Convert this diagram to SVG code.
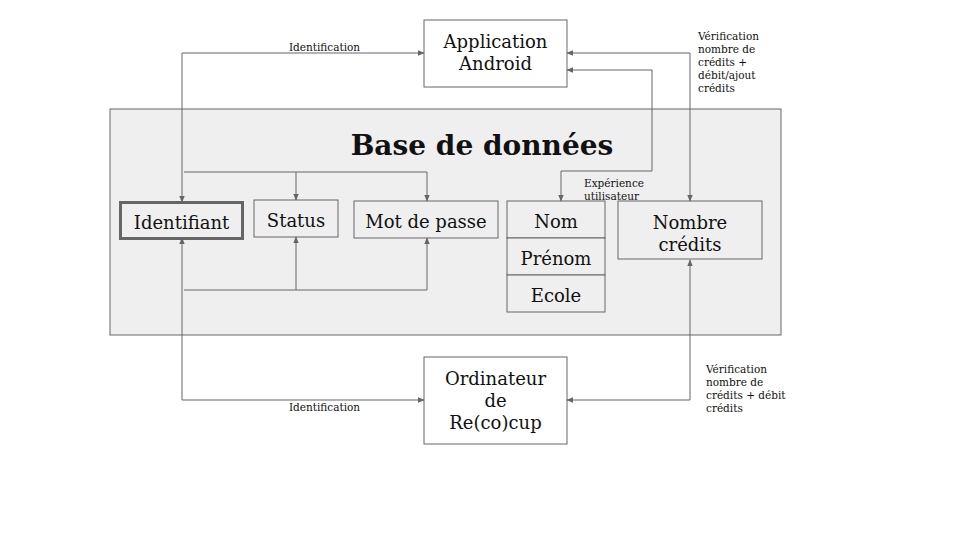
<svg xmlns="http://www.w3.org/2000/svg" width="960" height="540" viewBox="0 0 960 540">
<style>
.box{fill:#ffffff;stroke:#666666;stroke-width:1}
.inner{fill:#efefef;stroke:#666666;stroke-width:1}
.t{font-family:"DejaVu Serif","Liberation Serif",serif;font-size:18px;fill:#111;text-anchor:middle}
.s{font-family:"DejaVu Serif","Liberation Serif",serif;font-size:10.5px;fill:#111}
.c{fill:none;stroke:#666666;stroke-width:1}
</style>
<defs>
<marker id="a" viewBox="0 0 10 10" refX="9" refY="5" markerWidth="7" markerHeight="7" markerUnits="userSpaceOnUse" orient="auto-start-reverse">
<path d="M0,1 L10,5 L0,9 z" fill="#666666"/>
</marker>
</defs>
<rect width="960" height="540" fill="#ffffff"/>
<g id="base">
<rect x="110" y="109" width="671" height="226" fill="#efefef" stroke="#666666" stroke-width="1"/>
<text x="482" y="155" font-family="DejaVu Serif,Liberation Serif,serif" font-weight="bold" font-size="28" fill="#111" text-anchor="middle">Base de données</text>
</g>
<g id="app">
<rect class="box" x="424" y="20" width="143" height="67"/>
<text class="t" x="495.5" y="48">Application</text>
<text class="t" x="495.5" y="70">Android</text>
</g>
<g id="ordi">
<rect class="box" x="424" y="357" width="143" height="87"/>
<text class="t" x="495.5" y="385">Ordinateur</text>
<text class="t" x="495.5" y="407">de</text>
<text class="t" x="495.5" y="429">Re(co)cup</text>
</g>
<g id="identifiant">
<rect x="120.5" y="202.5" width="122" height="36" fill="#efefef" stroke="#666666" stroke-width="3"/>
<text class="t" x="181.5" y="229">Identifiant</text>
</g>
<g id="status">
<rect class="inner" x="254" y="200" width="84" height="37"/>
<text class="t" x="296" y="227">Status</text>
</g>
<g id="mdp">
<rect class="inner" x="354" y="201" width="144" height="37"/>
<text class="t" x="426" y="228">Mot de passe</text>
</g>
<g id="nom">
<rect class="inner" x="507" y="201" width="98" height="37"/>
<text class="t" x="556" y="228">Nom</text>
</g>
<g id="prenom">
<rect class="inner" x="507" y="238" width="98" height="37"/>
<text class="t" x="556" y="265">Prénom</text>
</g>
<g id="ecole">
<rect class="inner" x="507" y="275" width="98" height="37"/>
<text class="t" x="556" y="302">Ecole</text>
</g>
<g id="credits">
<rect class="inner" x="618" y="201" width="144" height="58"/>
<text class="t" x="690" y="229">Nombre</text>
<text class="t" x="690" y="251">crédits</text>
</g>
<g id="connectors">
<path class="c" d="M182,202 L182,53 L424,53" marker-start="url(#a)" marker-end="url(#a)"/>
<path class="c" d="M182,238 L182,400 L424,400" marker-start="url(#a)" marker-end="url(#a)"/>
<path class="c" d="M184,172 L427,172"/>
<path class="c" d="M296,172 L296,200" marker-end="url(#a)"/>
<path class="c" d="M427,172 L427,201" marker-end="url(#a)"/>
<path class="c" d="M184,290 L427,290"/>
<path class="c" d="M296,290 L296,237" marker-end="url(#a)"/>
<path class="c" d="M427,290 L427,238" marker-end="url(#a)"/>
<path class="c" d="M567,53 L690,53 L690,201" marker-start="url(#a)" marker-end="url(#a)"/>
<path class="c" d="M567,70 L652,70 L652,171 L561,171 L561,201" marker-start="url(#a)" marker-end="url(#a)"/>
<path class="c" d="M690,260 L690,400 L567,400" marker-start="url(#a)" marker-end="url(#a)"/>
</g>
<g id="labels">
<text class="s" x="324.5" y="51" text-anchor="middle">Identification</text>
<text class="s" x="324.5" y="411" text-anchor="middle">Identification</text>
<text class="s" x="584" y="187">Expérience</text>
<text class="s" x="584" y="200">utilisateur</text>
<text class="s" x="698" y="40">Vérification</text>
<text class="s" x="698" y="53">nombre de</text>
<text class="s" x="698" y="66">crédits +</text>
<text class="s" x="698" y="79">débit/ajout</text>
<text class="s" x="698" y="92">crédits</text>
<text class="s" x="706" y="373">Vérification</text>
<text class="s" x="706" y="386">nombre de</text>
<text class="s" x="706" y="399">crédits + débit</text>
<text class="s" x="706" y="412">crédits</text>
</g>
</svg>
